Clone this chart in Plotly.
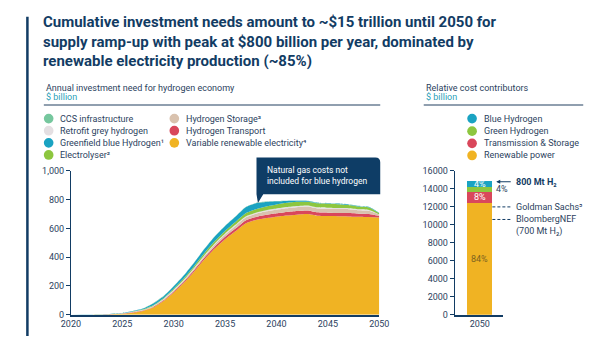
import plotly.graph_objects as go

# ---------------- data ----------------
years = list(range(2020, 2051))
vre =          [0,0,0,1,3,6,14,26,50,95,155,222,300,385,460,525,580,635,658,672,682,690,696,700,688,686,685,684,681,679,676]
transport =    [0,0,0,0,1,1,2,3,4,5,7,9,11,13,15,17,19,21,22,23,24,25,25,25,24,24,23,23,22,22,12]
storage =      [0,0,0,0,0,1,2,3,4,5,6,8,10,12,14,16,18,20,22,24,25,26,27,27,27,27,27,27,24,22,8]
grey =         [0,0,0,0,1,1,2,2,3,4,5,5,6,6,7,7,8,8,8,8,8,8,8,8,8,7,7,7,7,6,2]
electrolyser = [0,0,0,0,0,1,2,3,5,6,8,10,12,14,16,18,20,22,24,26,28,30,30,26,28,28,27,22,18,16,8]
blue =         [0,1,1,1,1,1,3,5,12,12,16,20,24,28,32,34,36,42,42,32,22,12,6,5,4,4,4,4,4,4,2]
ccs =          [0,0,0,0,0,1,1,1,2,2,2,2,2,2,2,2,2,2,2,2,2,2,2,2,2,2,2,2,2,2,1]

bar_year = [2050]
bar_renewable = [12450]
bar_trans_storage = [1200]
bar_green = [600]
bar_blue = [650]

goldman = 12000
bloomberg = 10600

FONT = "Roboto"
NAVY = "#123c64"
TXT = "#2c3f5e"
TEAL_TXT = "#2a9fb8"

C_VRE = "#f0b323"
C_TR = "#d9475b"
C_ST = "#d9c2ae"
C_GREY = "#e4dfe2"
C_EL = "#8dc63f"
C_BLUE = "#1aa3c2"
C_CCS = "#76c79e"

W, H = 600, 341
def px(x):
    return x / W
def py(y):
    return 1 - y / H

fig = go.Figure()

series = [
    ("Variable renewable electricity⁴", vre, C_VRE),
    ("Hydrogen Transport", transport, C_TR),
    ("Hydrogen Storage³", storage, C_ST),
    ("Retrofit grey hydrogen", grey, C_GREY),
    ("Electrolyser²", electrolyser, C_EL),
    ("Greenfield blue Hydrogen¹", blue, C_BLUE),
    ("CCS infrastructure", ccs, C_CCS),
]
for name, vals, col in series:
    fig.add_trace(go.Scatter(
        x=years, y=vals, name=name, stackgroup="h2", mode="lines",
        line=dict(width=0, color=col, shape="spline", smoothing=0.6),
        fillcolor=col, showlegend=False, xaxis="x", yaxis="y"))

bars = [
    ("Renewable power", bar_renewable, C_VRE),
    ("Transmission & Storage", bar_trans_storage, C_TR),
    ("Green Hydrogen", bar_green, C_EL),
    ("Blue Hydrogen", bar_blue, C_BLUE),
]
for name, vals, col in bars:
    fig.add_trace(go.Bar(x=bar_year, y=vals, name=name, marker=dict(color=col, line=dict(width=0)),
                         width=1.0, showlegend=False, xaxis="x2", yaxis="y2"))

y_dom = [22 / H, 170 / H]
axis_font = dict(family=FONT, size=9, color=TXT)
fig.update_layout(
    width=W, height=H, margin=dict(l=0, r=0, t=0, b=0),
    paper_bgcolor="white", plot_bgcolor="white", barmode="stack",
    xaxis=dict(domain=[63 / W, 382 / W], range=[2020, 2050], tickvals=[2020, 2025, 2030, 2035, 2040, 2045, 2050],
               showgrid=False, zeroline=False, showline=True, linecolor=NAVY, linewidth=1.5,
               ticks="", tickfont=axis_font, anchor="y"),
    yaxis=dict(domain=y_dom, range=[0, 1000], tickvals=[0, 200, 400, 600, 800, 1000], tickformat=",",
               showgrid=False, zeroline=False, showline=True, linecolor=NAVY, linewidth=1,
               ticks="outside", ticklen=4, tickcolor=NAVY, tickfont=axis_font, anchor="x"),
    xaxis2=dict(domain=[460 / W, 510 / W], range=[bar_year[0] - 1, bar_year[0] + 0.923], tickvals=bar_year,
                showgrid=False, zeroline=False, showline=True, linecolor=NAVY, linewidth=1.5,
                ticks="", tickfont=axis_font, anchor="y2"),
    yaxis2=dict(domain=y_dom, range=[0, 16000], dtick=2000, tickformat="d",
                showgrid=False, zeroline=False, showline=True, linecolor=NAVY, linewidth=1,
                ticks="outside", ticklen=4, tickcolor=NAVY, tickfont=axis_font, anchor="x2"),
    showlegend=False,
)

shapes = []
annos = []

# left border
shapes.append(dict(type="line", xref="paper", yref="paper", x0=px(18), x1=px(18), y0=py(12), y1=py(341),
                   line=dict(color=NAVY, width=2.5)))

# title
annos.append(dict(xref="paper", yref="paper", x=px(32), y=py(6), xanchor="left", yanchor="top", align="left",
                  showarrow=False,
                  text="<b>Cumulative investment needs amount to ~$15 trillion until 2050 for<br>"
                       "supply ramp-up with peak at $800 billion per year, dominated by<br>"
                       "renewable electricity production (~85%)</b>",
                  font=dict(family=FONT, size=15, color=NAVY)))

# section headers
for x0, x1, head in [(35, 383, "Annual investment need for hydrogen economy"), (428, 593, "Relative cost contributors")]:
    annos.append(dict(xref="paper", yref="paper", x=px(x0), y=py(85), xanchor="left", yanchor="middle",
                      showarrow=False, text=head, font=dict(family=FONT, size=9, color=TXT)))
    annos.append(dict(xref="paper", yref="paper", x=px(x0), y=py(94.5), xanchor="left", yanchor="middle",
                      showarrow=False, text="$ billion", font=dict(family=FONT, size=9, color=TEAL_TXT)))
    shapes.append(dict(type="line", xref="paper", yref="paper", x0=px(x0), x1=px(x1), y0=py(103), y1=py(103),
                       line=dict(color="#6b7f95", width=1.5)))

# legends
col_of = {n: c for n, _, c in series}
left_legend = [
    (40, 117, "CCS infrastructure"), (40, 129.5, "Retrofit grey hydrogen"),
    (40, 142, "Greenfield blue Hydrogen¹"), (40, 154.5, "Electrolyser²"),
    (170, 117, "Hydrogen Storage³"), (170, 129.5, "Hydrogen Transport"),
    (170, 142, "Variable renewable electricity⁴"),
]
bar_col = {n: c for n, _, c in bars}
right_legend = [
    (478, 117, "Blue Hydrogen"), (478, 130, "Green Hydrogen"),
    (478, 142.5, "Transmission & Storage"), (478, 155, "Renewable power"),
]
for items, cmap in [(left_legend, col_of), (right_legend, bar_col)]:
    for cx, cy, name in items:
        shapes.append(dict(type="circle", xref="paper", yref="paper", x0=px(cx - 5), x1=px(cx + 5),
                           y0=py(cy + 5), y1=py(cy - 5), fillcolor=cmap[name], line=dict(width=0)))
        annos.append(dict(xref="paper", yref="paper", x=px(cx + 10), y=py(cy), xanchor="left", yanchor="middle",
                          showarrow=False, text=name, font=dict(family=FONT, size=9, color=TXT)))

# callout box
pts = "M {},{} L {},{} Q {},{} {},{} L {},{} L {},{} L {},{} L {},{} Z".format(
    px(255), py(157), px(378), py(157), px(383), py(157), px(383), py(162), px(383), py(195),
    px(262), py(195), px(256.5), py(204), px(255), py(195))
shapes.append(dict(type="path", xref="paper", yref="paper", path=pts, fillcolor="#0e3d66", line=dict(width=0)))
annos.append(dict(xref="paper", yref="paper", x=px(264), y=py(176), xanchor="left", yanchor="middle", align="left",
                  showarrow=False, text="Natural gas costs not<br>included for blue hydrogen",
                  font=dict(family=FONT, size=8.5, color="white")))

# bar labels
total = bar_renewable[0] + bar_trans_storage[0] + bar_green[0] + bar_blue[0]
base = 0
mids = []
for name, vals, col in bars:
    mids.append((name, base + vals[0] / 2, vals[0]))
    base += vals[0]
for name, mid, v in mids:
    pct = "{:.0f}%".format(100 * v / total)
    if name == "Green Hydrogen":
        annos.append(dict(xref="paper", yref="y2", x=px(501), y=mid, xanchor="left", yanchor="middle",
                          showarrow=False, text=pct, font=dict(family=FONT, size=9, color=TXT)))
    else:
        color = "#7d6320" if name == "Renewable power" else "white"
        annos.append(dict(xref="x2", yref="y2", x=bar_year[0], y=mid, xanchor="center", yanchor="middle",
                          showarrow=False, text=pct, font=dict(family=FONT, size=9, color=color)))

# 800 Mt arrow
annos.append(dict(xref="paper", yref="y2", x=px(503), y=total - 100, ax=16, ay=0, text="", showarrow=True,
                  arrowhead=2, arrowsize=0.8, arrowwidth=1, arrowcolor=NAVY))
annos.append(dict(xref="paper", yref="y2", x=px(521), y=total - 100, xanchor="left", yanchor="middle",
                  showarrow=False, text="<b>800 Mt H₂</b>", font=dict(family=FONT, size=9, color=NAVY)))

# benchmark lines
for val, label in [(goldman, "Goldman Sachs⁵"), (bloomberg, "BloombergNEF")]:
    shapes.append(dict(type="line", xref="paper", yref="y2", x0=px(499), x1=px(518), y0=val, y1=val,
                       line=dict(color=NAVY, width=1, dash="3px,2px")))
    annos.append(dict(xref="paper", yref="y2", x=px(521), y=val, xanchor="left", yanchor="middle",
                      showarrow=False, text=label, font=dict(family=FONT, size=9, color=TXT)))
annos.append(dict(xref="paper", yref="paper", x=px(521), y=py(233.5), xanchor="left", yanchor="middle",
                  showarrow=False, text="(700 Mt H₂)", font=dict(family=FONT, size=9, color=TXT)))

fig.update_layout(shapes=shapes, annotations=annos)
fig.write_html("out.html")
